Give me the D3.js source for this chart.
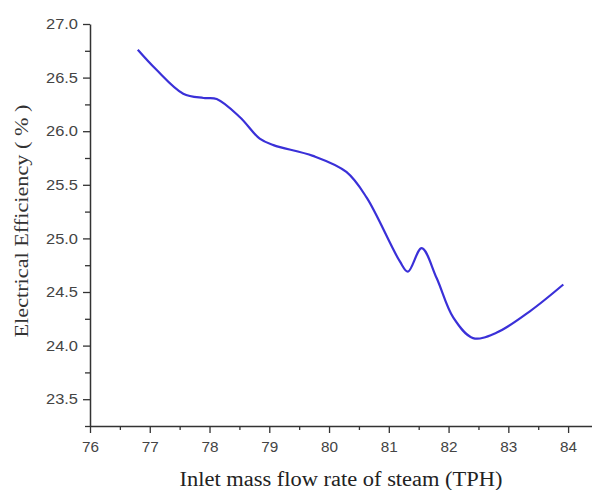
<!DOCTYPE html>
<html>
<head>
<meta charset="utf-8">
<script src="https://cdn.jsdelivr.net/npm/d3@7"></script>
<style>
  body { margin: 0; background: #fff; }
</style>
</head>
<body>
<div id="chart"></div>
<script>
// values
var flowRate = [76.80, 77.10, 77.56, 77.90, 78.12, 78.51, 78.84, 79.07, 79.73, 80.29, 80.63, 81.18, 81.32, 81.55, 81.80, 82.08, 82.41, 82.80, 83.36, 83.92];
var efficiency = [26.76, 26.58, 26.35, 26.31, 26.30, 26.13, 25.93, 25.87, 25.77, 25.62, 25.38, 24.79, 24.69, 24.91, 24.63, 24.26, 24.07, 24.12, 24.32, 24.57];
var xTicks = [76, 77, 78, 79, 80, 81, 82, 83, 84];
var yTicks = [23.5, 24.0, 24.5, 25.0, 25.5, 26.0, 26.5, 27.0];

var width = 592, height = 490;
var margin = { top: 24, right: 0, bottom: 64, left: 90 };

var svg = d3.select("#chart").append("svg")
    .attr("width", width)
    .attr("height", height);

var x = d3.scaleLinear().domain([76, 84.4]).range([margin.left, width - margin.right]);
var y = d3.scaleLinear().domain([23.25, 27.0]).range([height - margin.bottom, margin.top]);

var axisColor = "#333";

// minor ticks first so the major ones sit on top
var xMinor = d3.range(76.5, 84.4, 1);
var yMinor = d3.range(23.25, 27.0, 0.5);

svg.append("g")
    .attr("transform", "translate(0," + y(23.25) + ")")
    .call(d3.axisBottom(x).tickValues(xMinor).tickSize(4).tickFormat(""))
    .call(g => g.select(".domain").remove());

svg.append("g")
    .attr("transform", "translate(" + x(76) + ",0)")
    .call(d3.axisLeft(y).tickValues(yMinor).tickSize(5).tickFormat(""))
    .call(g => g.select(".domain").remove());

var xAxis = svg.append("g")
    .attr("transform", "translate(0," + y(23.25) + ")")
    .call(d3.axisBottom(x).tickValues(xTicks).tickSize(7).tickSizeOuter(0).tickFormat(d3.format("d")));

var yAxis = svg.append("g")
    .attr("transform", "translate(" + x(76) + ",0)")
    .call(d3.axisLeft(y).tickValues(yTicks).tickSize(7).tickSizeOuter(0).tickFormat(d3.format(".1f")));

svg.selectAll(".tick line").attr("stroke", axisColor).attr("stroke-width", 1.3);
svg.selectAll(".domain").attr("stroke", axisColor).attr("stroke-width", 1.5);
svg.selectAll(".tick text")
    .attr("fill", "#444")
    .style("font-family", "'Liberation Sans', Arial, sans-serif")
    .style("font-size", "14.5px");
xAxis.selectAll(".tick text").attr("dy", "1.1em")
    .attr("textLength", 17).attr("lengthAdjust", "spacingAndGlyphs");
yAxis.selectAll(".tick text").attr("x", -12)
    .attr("textLength", 32).attr("lengthAdjust", "spacingAndGlyphs");

// the curve
var pts = flowRate.map(function(d, i) { return [d, efficiency[i]]; });
var line = d3.line()
    .x(function(d) { return x(d[0]); })
    .y(function(d) { return y(d[1]); })
    .curve(d3.curveCatmullRom.alpha(0.5));

svg.append("path")
    .datum(pts)
    .attr("fill", "none")
    .attr("stroke", "#3a30d8")
    .attr("stroke-width", 2.2)
    .attr("d", line);

// axis titles
svg.append("text")
    .attr("x", 341)
    .attr("y", 486)
    .attr("text-anchor", "middle")
    .attr("textLength", 323)
    .attr("lengthAdjust", "spacingAndGlyphs")
    .style("font-family", "'Liberation Serif', 'Times New Roman', serif")
    .style("font-size", "20px")
    .attr("fill", "#222")
    .text("Inlet mass flow rate of steam (TPH)");

svg.append("text")
    .attr("transform", "translate(28,221) rotate(-90)")
    .attr("text-anchor", "middle")
    .attr("textLength", 233)
    .attr("lengthAdjust", "spacingAndGlyphs")
    .style("font-family", "'Liberation Serif', 'Times New Roman', serif")
    .style("font-size", "19px")
    .attr("fill", "#333")
    .text("Electrical Efficiency ( % )");
</script>
</body>
</html>
